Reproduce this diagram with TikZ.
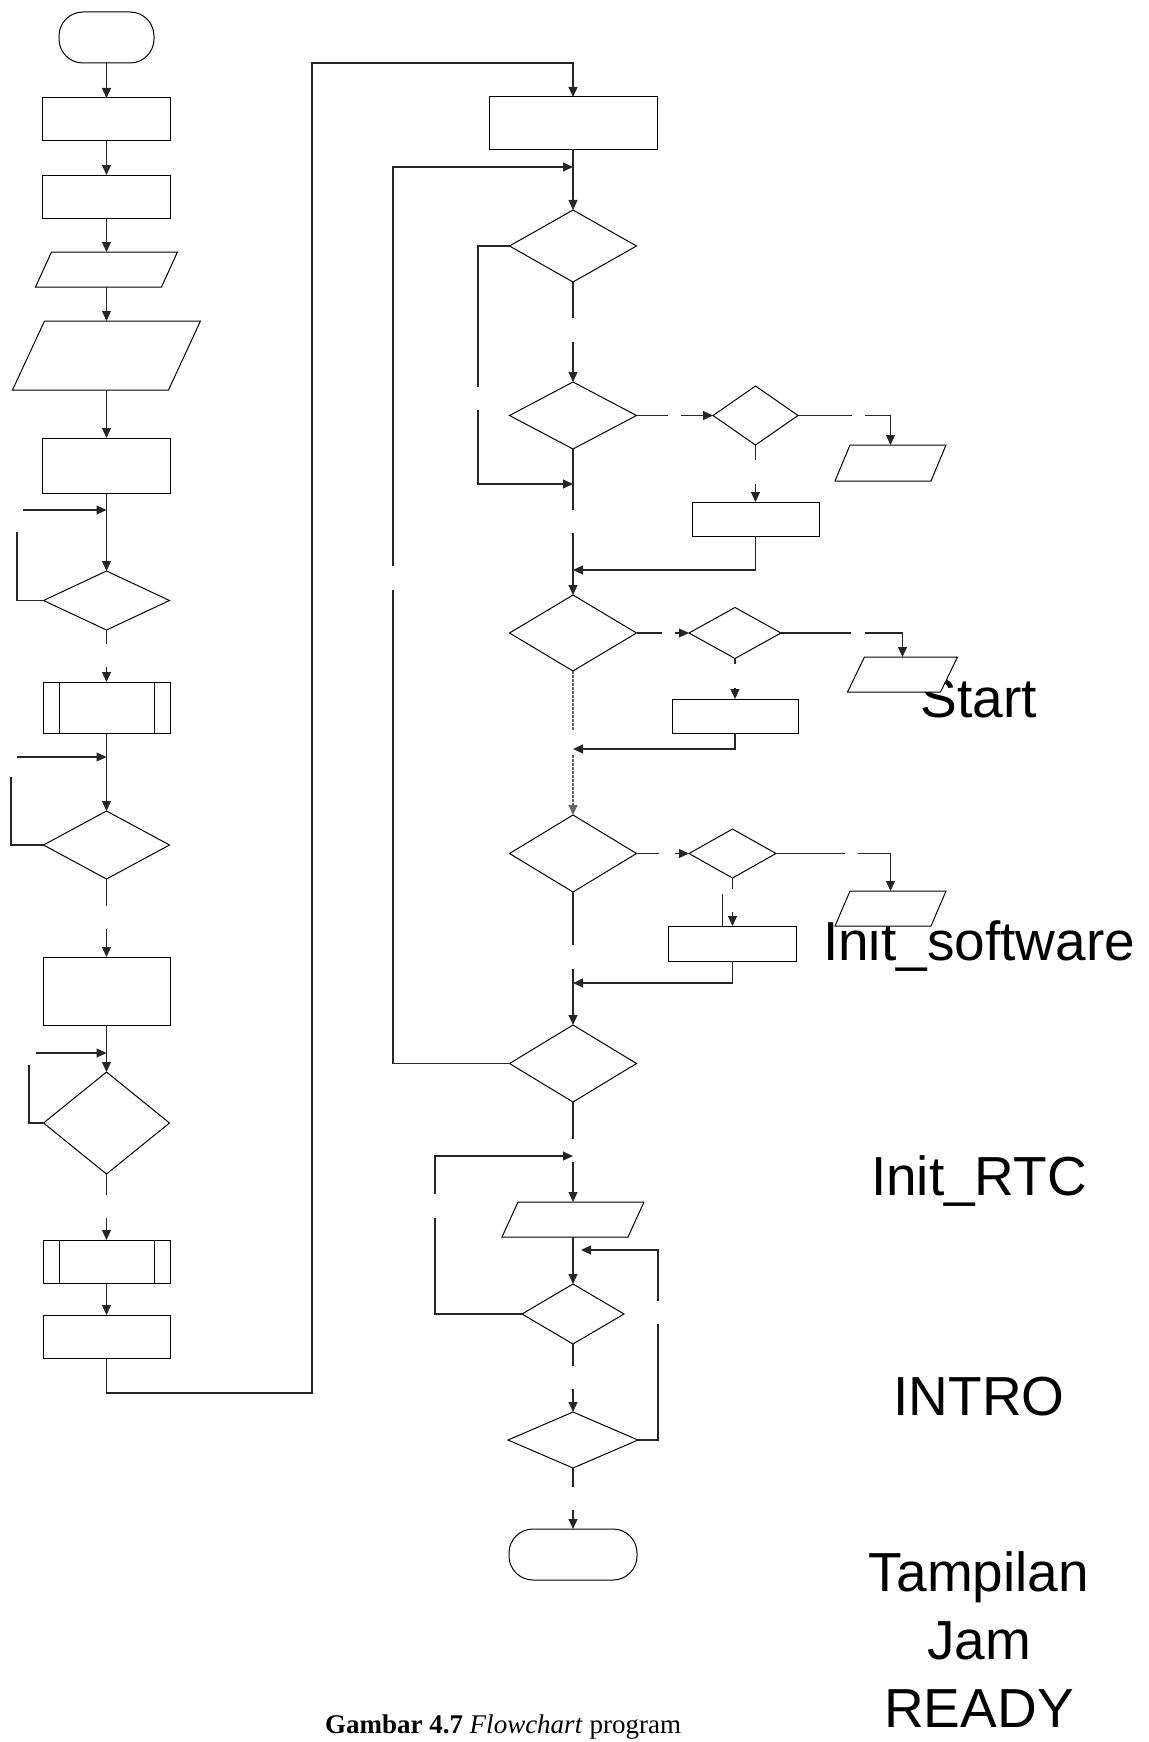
\documentclass[tikz,border=0pt]{standalone}
\usepackage{fontspec}
\setmainfont{Liberation Serif}
\newfontfamily\arialfont{Liberation Sans}
\usetikzlibrary{arrows.meta,shapes.geometric}
\tikzset{
  ln/.style={line width=1.1pt, draw=black!85},
  arr/.style={ln, -{Triangle[length=10pt,width=9pt]}},
  box/.style={draw=black, fill=white, line width=1pt, rectangle, inner sep=0pt, outer sep=0pt},
  dec/.style={draw=black, fill=white, line width=1pt, diamond, inner sep=0pt, outer sep=0pt},
  ghost/.style={rectangle, inner sep=0pt, outer sep=0pt},
  term/.style={box, rounded corners=24pt},
  big/.style={font=\arialfont\fontsize{55}{68}\selectfont, inner sep=0pt, anchor=base},
  dots/.style={draw=black!60, dash pattern=on 2.5pt off 1.5pt},
}
\newcommand\drawpara[2]{\draw[line width=1pt, fill=white] ([xshift=-#2]#1.south west) -- ([xshift=#2]#1.north west) -- ([xshift=#2]#1.north east) -- ([xshift=-#2]#1.south east) -- cycle;}
\newcommand\drawsub[2]{\draw[line width=1pt] ([xshift=#2]#1.north west) -- ([xshift=#2]#1.south west) ([xshift=-#2]#1.north east) -- ([xshift=-#2]#1.south east);}
\begin{document}
\begin{tikzpicture}[x=1pt,y=-1pt]
\useasboundingbox (0,0) rectangle (1148,1742);

% ---------- labels (drawn first, shapes overlap them) ----------
\node[big] (tx1) at (979,717) {Start};
\node[big] (tx2) at (979,960) {Init\_software};
\node[big] (tx3) at (979,1195) {Init\_RTC};
\node[big] (tx4) at (979,1415) {INTRO};
\node[big, align=center] (tx5) at (979,1727) {Tampilan\\Jam\\READY};
\node[font=\fontsize{27}{32}\selectfont, inner sep=0pt, anchor=base] (cap) at (503,1733) {\textbf{Gambar 4.7} \textit{Flowchart} program};

% ---------- left column ----------
\node[term, minimum width=95, minimum height=51] (t1) at (106.5,37.5) {};
\node[box, minimum width=128, minimum height=43] (r1) at (106.5,119.5) {};
\node[box, minimum width=128, minimum height=43] (r2) at (106.5,196.5) {};
\node[ghost, minimum width=126, minimum height=35] (pa) at (106.5,269.5) {};
\drawpara{pa}{8}
\node[ghost, minimum width=156, minimum height=69] (pb) at (106.5,355.5) {};
\drawpara{pb}{16}
\node[box, minimum width=128, minimum height=55] (r3) at (106.5,465.5) {};
\node[dec, minimum width=126, minimum height=59] (d1) at (106.5,600.5) {};
\node[box, minimum width=127, minimum height=51] (s1) at (106.5,707.5) {};
\drawsub{s1}{16}
\node[dec, minimum width=126, minimum height=68] (d2) at (106.5,845) {};
\node[box, minimum width=127, minimum height=68] (r4) at (106.5,991) {};
\node[dec, minimum width=126, minimum height=102] (d3) at (106.5,1123) {};
\node[box, minimum width=127, minimum height=43] (s2) at (106.5,1261.5) {};
\drawsub{s2}{16}
\node[box, minimum width=127, minimum height=43] (r5) at (106.5,1336.5) {};

\draw[arr] (t1) -- (r1);
\draw[arr] (r1) -- (r2);
\draw[arr] (r2) -- (pa);
\draw[arr] (pa) -- (pb);
\draw[arr] (pb) -- (r3);
\draw[arr] (r3) -- (d1);
\coordinate (a1) at (23,510); \coordinate (j1) at (106.5,510);
\draw[arr] (a1) -- (j1);
\coordinate (l1) at (17,532);
\draw[ln] (d1.west) -| (l1);
\coordinate (g1) at (106.5,644); \coordinate (h1) at (106.5,667);
\draw[ln] (d1.south) -- (g1);
\draw[arr] (h1) -- (s1.north);
\draw[arr] (s1) -- (d2);
\coordinate (a2) at (17,757); \coordinate (j2) at (106.5,757);
\draw[arr] (a2) -- (j2);
\coordinate (l2) at (11,777);
\draw[ln] (d2.west) -| (l2);
\coordinate (g2) at (106.5,906); \coordinate (h2) at (106.5,929);
\draw[ln] (d2.south) -- (g2);
\draw[arr] (h2) -- (r4.north);
\draw[arr] (r4) -- (d3);
\coordinate (a3) at (36,1053); \coordinate (j3) at (106.5,1053);
\draw[arr] (a3) -- (j3);
\coordinate (l3) at (29,1065);
\draw[ln] (d3.west) -| (l3);
\coordinate (g3) at (106.5,1195); \coordinate (h3) at (106.5,1218);
\draw[ln] (d3.south) -- (g3);
\draw[arr] (h3) -- (s2.north);
\draw[arr] (s2) -- (r5);

% ---------- middle column ----------
\node[box, minimum width=168, minimum height=52] (mr1) at (573,123) {};
\node[dec, minimum width=127, minimum height=72] (md1) at (573,246) {};
\node[dec, minimum width=127, minimum height=67] (md2) at (573,415.5) {};
\node[dec, minimum width=127, minimum height=76] (md3) at (573,633) {};
\node[dec, minimum width=127, minimum height=77] (md4) at (573,853.5) {};
\node[dec, minimum width=127, minimum height=77] (md5) at (573,1063.5) {};
\node[ghost, minimum width=126, minimum height=35] (mp4) at (573,1219.5) {};
\drawpara{mp4}{8}
\node[dec, minimum width=102, minimum height=60] (md6) at (573,1314) {};
\node[dec, minimum width=130, minimum height=56] (md7) at (573,1440) {};
\node[term, minimum width=128, minimum height=51] (mt2) at (573,1554.5) {};

\coordinate (c1) at (106.5,1393); \coordinate (c2) at (312,1393);
\coordinate (c3) at (312,63); \coordinate (c4) at (573,63);
\draw[arr] (r5.south) -- (c1) -- (c2) -- (c3) -- (c4) -- (mr1.north);

\draw[arr] (mr1) -- (md1);
\coordinate (j4) at (573,167);
\coordinate (bl1) at (393,590); \coordinate (bl2) at (393,566);
\draw[ln] (md5.west) -| (bl1);
\draw[arr] (bl2) |- (j4);

\coordinate (g4) at (573,318); \coordinate (h4) at (573,342);
\draw[ln] (md1.south) -- (g4);
\draw[arr] (h4) -- (md2.north);
\coordinate (ll1) at (478,387); \coordinate (ll2) at (478,410); \coordinate (j5) at (573,484);
\draw[ln] (md1.west) -| (ll1);
\draw[arr] (ll2) |- (j5);
\coordinate (g5) at (573,510); \coordinate (h5) at (573,533);
\draw[ln] (md2.south) -- (g5);
\draw[arr] (h5) -- (md3.north);

% right branch 1
\node[dec, minimum width=85, minimum height=59] (sd1) at (755.5,415.5) {};
\node[ghost, minimum width=96, minimum height=36] (sp1) at (890.5,463) {};
\drawpara{sp1}{7.5}
\node[box, minimum width=127, minimum height=34] (sr1) at (755.5,519) {};
\coordinate (e1) at (668,415.5); \coordinate (f1) at (681,415.5);
\draw[ln] (md2.east) -- (e1);
\draw[arr] (f1) -- (sd1.west);
\coordinate (e2) at (852,415.5); \coordinate (f2) at (865,415.5);
\draw[ln] (sd1.east) -- (e2);
\draw[arr] (f2) -| (sp1.north);
\coordinate (e3) at (755.5,460); \coordinate (f3) at (755.5,484);
\draw[ln] (sd1.south) -- (e3);
\draw[arr] (f3) -- (sr1.north);
\coordinate (j6) at (573,570);
\draw[arr] (sr1.south) |- (j6);

% dotted section
\coordinate (g6) at (573,730); \coordinate (h6) at (573,755);
\draw[ln, dots] (md3.south) -- (g6);
\draw[arr, dots] (h6) -- (md4.north);

% right branch 2
\node[dec, minimum width=92, minimum height=51] (sd2) at (735,633) {};
\node[ghost, minimum width=93, minimum height=35] (sp2) at (902.5,674.5) {};
\drawpara{sp2}{8.5}
\node[box, minimum width=126, minimum height=34] (sr2) at (735,716) {};
\coordinate (e4) at (662,633); \coordinate (f4) at (675,633);
\draw[ln] (md3.east) -- (e4);
\draw[arr] (f4) -- (sd2.west);
\coordinate (e5) at (851,633); \coordinate (f5) at (865,633);
\draw[ln] (sd2.east) -- (e5);
\draw[arr] (f5) -| (sp2.north);
\coordinate (e6) at (735,664); \coordinate (f6) at (735,688);
\draw[ln] (sd2.south) -- (e6);
\draw[arr] (f6) -- (sr2.north);
\coordinate (j7) at (573,749);
\draw[arr] (sr2.south) |- (j7);

\coordinate (g7) at (573,945); \coordinate (h7) at (573,969);
\draw[ln] (md4.south) -- (g7);
\draw[arr] (h7) -- (md5.north);

% right branch 3
\node[dec, minimum width=87, minimum height=49] (sd3) at (732.5,853.5) {};
\node[ghost, minimum width=96, minimum height=35] (sp3) at (890.5,908.5) {};
\drawpara{sp3}{7.5}
\node[box, minimum width=128, minimum height=35] (sr3) at (732.5,943.5) {};
\coordinate (e7) at (659,853.5); \coordinate (f7) at (675,853.5);
\draw[ln] (md4.east) -- (e7);
\draw[arr] (f7) -- (sd3.west);
\coordinate (e8) at (845,853.5); \coordinate (f8) at (858,853.5);
\draw[ln] (sd3.east) -- (e8);
\draw[arr] (f8) -| (sp3.north);
\coordinate (e9) at (732.5,889); \coordinate (k1) at (722.5,894); \coordinate (f9) at (732.5,912);
\draw[ln] (sd3.south) -- (e9);
\draw[ln] (k1) -- (k1 |- sr3.north);
\draw[arr] (f9) -- (sr3.north);
\coordinate (j8) at (573,983);
\draw[arr] (sr3.south) |- (j8);

% bottom section
\coordinate (g8) at (573,1139); \coordinate (h8) at (573,1162);
\draw[ln] (md5.south) -- (g8);
\draw[arr] (h8) -- (mp4.north);
\coordinate (j9) at (573,1156);
\coordinate (ml1) at (435,1218); \coordinate (ml2) at (435,1194);
\draw[ln] (md6.west) -| (ml1);
\draw[arr] (ml2) |- (j9);
\draw[arr] (mp4) -- (md6);
\coordinate (j10) at (581,1250);
\coordinate (rl1) at (658,1324); \coordinate (rl2) at (658,1301);
\draw[ln] (md7.east) -| (rl1);
\draw[arr] (rl2) |- (j10);
\coordinate (g9) at (573,1366); \coordinate (h9) at (573,1389);
\draw[ln] (md6.south) -- (g9);
\draw[arr] (h9) -- (md7.north);
\coordinate (g10) at (573,1487); \coordinate (h10) at (573,1510);
\draw[ln] (md7.south) -- (g10);
\draw[arr] (h10) -- (mt2.north);
\end{tikzpicture}
\end{document}
